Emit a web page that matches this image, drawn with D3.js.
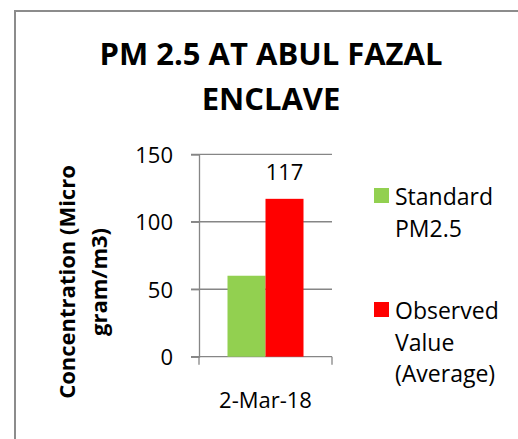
<!DOCTYPE html>
<html>
<head>
<meta charset="utf-8">
<script src="https://cdn.jsdelivr.net/npm/d3@7"></script>
<style>
  html, body { margin: 0; padding: 0; background: #fff; }
  svg { display: block; }
  text { font-family: "Open Sans", Lato, sans-serif; fill: #000; }
</style>
</head>
<body>
<script>
const titleLines = ["PM 2.5 AT ABUL FAZAL", "ENCLAVE"];
const categories = ["2-Mar-18"];
const seriesNames = ["Standard PM2.5", "Observed Value (Average)"];
const legendLines = [["Standard", "PM2.5"], ["Observed", "Value", "(Average)"]];
const standardValues = [60];
const observedValues = [117];
const seriesColors = ["#92D050", "#FF0000"];
const yTicks = [0, 50, 100, 150];
const yTitleLines = ["Concentration (Micro", "gram/m3)"];
const showLabels = [false, true];

const W = 518, H = 439;
const FONT = "Open Sans";
const svg = d3.select("body").append("svg").attr("width", W).attr("height", H);

// chart border
svg.append("rect").attr("x", 15).attr("y", 11).attr("width", 700).attr("height", 700)
  .attr("fill", "#fff").attr("stroke", "#8c8c8c").attr("stroke-width", 2);

// title
svg.append("text").attr("text-anchor", "middle").attr("font-weight", "bold").attr("font-size", 31)
  .selectAll("tspan").data(titleLines).join("tspan")
  .attr("x", 271).attr("y", (d, i) => 65 + i * 45).text(d => d);

const plot = { left: 199, right: 332, top: 154.3, bottom: 356.7 };
const y = d3.scaleLinear().domain([0, 150]).range([plot.bottom, plot.top]);
const x0 = d3.scaleBand().domain(categories).range([plot.left, plot.right]).paddingInner(0).paddingOuter(0);
const x1 = d3.scaleBand().domain(seriesNames).range([0, x0.bandwidth()]).paddingInner(0).paddingOuter(0.75);

const gridColor = "#868686";
// gridlines
svg.append("g").selectAll("line").data(yTicks.filter(t => t > 0)).join("line")
  .attr("x1", plot.left - 8).attr("x2", plot.right)
  .attr("y1", d => y(d)).attr("y2", d => y(d))
  .attr("stroke", gridColor).attr("stroke-width", 1.3);

// y axis
const yAxis = svg.append("g").attr("transform", `translate(${plot.left},0)`)
  .call(d3.axisLeft(y).tickValues(yTicks).tickSize(8).tickPadding(18));
yAxis.select(".domain").attr("stroke", gridColor).attr("stroke-width", 1.3);
yAxis.selectAll(".tick line").attr("stroke", gridColor).attr("stroke-width", 1.3);
yAxis.selectAll(".tick text").attr("font-size", 22).attr("font-family", FONT).attr("fill", "#000")
  .attr("dy", "0.36em");

// x axis
const xAxis = svg.append("g").attr("transform", `translate(0,${plot.bottom})`)
  .call(d3.axisBottom(x0).tickSize(0).tickPadding(0));
xAxis.select(".domain").remove();
xAxis.selectAll(".tick text").attr("font-size", 22).attr("font-family", FONT).attr("fill", "#000")
  .attr("dy", 0).attr("y", 51);
svg.append("line").attr("x1", plot.left - 8).attr("x2", plot.right)
  .attr("y1", plot.bottom).attr("y2", plot.bottom).attr("stroke", gridColor).attr("stroke-width", 1.3);
svg.append("g").selectAll("line").data([plot.left, plot.right]).join("line")
  .attr("x1", d => d).attr("x2", d => d).attr("y1", plot.bottom).attr("y2", plot.bottom + 8)
  .attr("stroke", gridColor).attr("stroke-width", 1.3);

// bars
const seriesData = [standardValues, observedValues];
seriesData.forEach((vals, si) => {
  const g = svg.append("g");
  g.selectAll("rect").data(vals).join("rect")
    .attr("x", (d, i) => x0(categories[i]) + x1(seriesNames[si]))
    .attr("width", x1.bandwidth())
    .attr("y", d => y(d))
    .attr("height", d => y(0) - y(d))
    .attr("fill", seriesColors[si]);
  if (showLabels[si]) {
    g.selectAll("text").data(vals).join("text")
      .attr("x", (d, i) => x0(categories[i]) + x1(seriesNames[si]) + x1.bandwidth() / 2)
      .attr("y", d => y(d) - 19)
      .attr("text-anchor", "middle").attr("font-size", 22)
      .text(d => d);
  }
});

// y title
const yt = svg.append("text").attr("transform", "translate(0,282) rotate(-90)")
  .attr("text-anchor", "middle").attr("font-weight", "bold").attr("font-size", 22);
yt.selectAll("tspan").data(yTitleLines).join("tspan")
  .attr("x", 0).attr("y", (d, i) => 75 + i * 32).text(d => d);

// legend
const legendTop = [188, 302];
legendLines.forEach((lines, i) => {
  svg.append("rect").attr("x", 374).attr("y", legendTop[i]).attr("width", 15).attr("height", 15)
    .attr("fill", seriesColors[i]);
  svg.append("text").attr("font-size", 23)
    .selectAll("tspan").data(lines).join("tspan")
    .attr("x", 395).attr("y", (d, j) => legendTop[i] + 17 + j * 31.5).text(d => d);
});
</script>
</body>
</html>
